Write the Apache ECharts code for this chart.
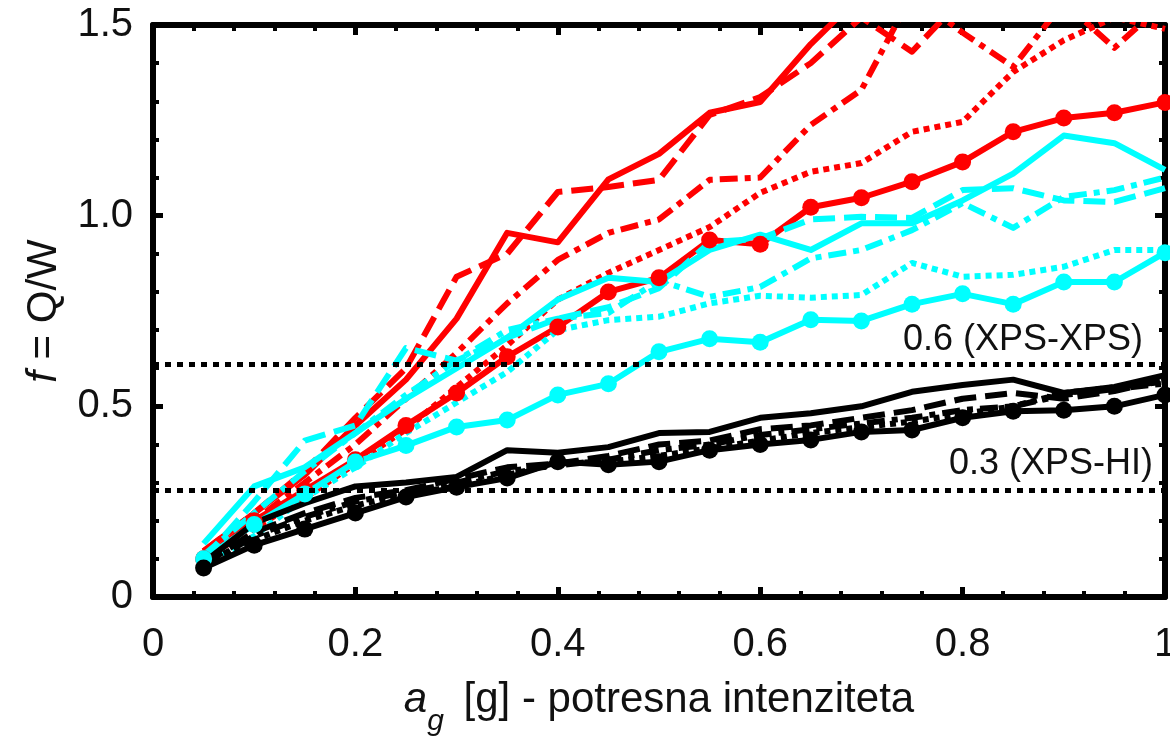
<!DOCTYPE html>
<html>
<head>
<meta charset="utf-8">
<title>f = Q/W</title>
<script src="https://cdn.jsdelivr.net/npm/echarts@6/dist/echarts.min.js"></script>
<style>
  html, body { margin: 0; padding: 0; background: #fff; }
  #chart { width: 1170px; height: 742px; }
</style>
</head>
<body>
<div id="chart"></div>
<script>
// a_g values [g]
var xs = [0.05, 0.1, 0.15, 0.2, 0.25, 0.3, 0.35, 0.4, 0.45, 0.5, 0.55, 0.6, 0.65, 0.7, 0.75, 0.8, 0.85, 0.9, 0.95, 1.0];

// red group
var redDots    = [0.10, 0.20, 0.28, 0.36, 0.45, 0.535, 0.63, 0.708, 0.80, 0.837, 0.936, 0.925, 1.022, 1.047, 1.089, 1.141, 1.22, 1.256, 1.27, 1.297];
var redSolid   = [0.12, 0.22, 0.32, 0.45, 0.57, 0.73, 0.955, 0.93, 1.095, 1.162, 1.27, 1.298, 1.45, 1.58, 1.60, 1.62, 1.65, 1.62, 1.66, 1.70];
var redDashed  = [0.12, 0.22, 0.33, 0.47, 0.60, 0.84, 0.90, 1.062, 1.075, 1.094, 1.264, 1.311, 1.40, 1.52, 1.43, 1.57, 1.60, 1.58, 1.62, 1.64];
var redDashDot = [0.11, 0.20, 0.30, 0.40, 0.52, 0.64, 0.77, 0.884, 0.955, 0.99, 1.094, 1.10, 1.238, 1.33, 1.58, 1.48, 1.39, 1.56, 1.44, 1.56];
var redDotted  = [0.10, 0.18, 0.26, 0.35, 0.44, 0.55, 0.66, 0.78, 0.85, 0.91, 0.97, 1.06, 1.115, 1.138, 1.22, 1.246, 1.377, 1.46, 1.52, 1.49];

// cyan group
var cyanDots    = [0.10, 0.19, 0.27, 0.354, 0.397, 0.446, 0.464, 0.53, 0.559, 0.643, 0.677, 0.668, 0.727, 0.724, 0.768, 0.795, 0.768, 0.826, 0.826, 0.903];
var cyanSolid   = [0.14, 0.29, 0.34, 0.43, 0.52, 0.60, 0.68, 0.78, 0.837, 0.826, 0.91, 0.95, 0.91, 0.98, 0.98, 1.04, 1.11, 1.21, 1.19, 1.12];
var cyanDashed  = [0.10, 0.25, 0.41, 0.45, 0.653, 0.62, 0.68, 0.73, 0.76, 0.81, 0.93, 0.94, 0.99, 0.997, 0.994, 1.067, 1.072, 1.04, 1.036, 1.072];
var cyanDashDot = [0.11, 0.22, 0.33, 0.43, 0.53, 0.62, 0.70, 0.73, 0.745, 0.83, 0.787, 0.813, 0.888, 0.91, 0.962, 1.033, 0.968, 1.049, 1.067, 1.10];
var cyanDotted  = [0.08, 0.16, 0.26, 0.34, 0.43, 0.51, 0.59, 0.70, 0.726, 0.735, 0.77, 0.79, 0.785, 0.792, 0.876, 0.84, 0.845, 0.866, 0.91, 0.91];

// black group
var blackDots    = [0.076, 0.136, 0.178, 0.22, 0.262, 0.288, 0.312, 0.355, 0.347, 0.355, 0.385, 0.40, 0.412, 0.433, 0.438, 0.47, 0.487, 0.49, 0.50, 0.53];
var blackSolid   = [0.09, 0.194, 0.246, 0.29, 0.30, 0.315, 0.385, 0.378, 0.393, 0.43, 0.433, 0.47, 0.482, 0.50, 0.538, 0.556, 0.57, 0.535, 0.551, 0.582];
var blackDashed  = [0.085, 0.17, 0.22, 0.26, 0.28, 0.31, 0.34, 0.35, 0.37, 0.40, 0.41, 0.44, 0.45, 0.47, 0.49, 0.52, 0.535, 0.52, 0.54, 0.57];
var blackDashDot = [0.08, 0.16, 0.21, 0.25, 0.275, 0.30, 0.33, 0.345, 0.36, 0.385, 0.40, 0.425, 0.44, 0.455, 0.47, 0.49, 0.50, 0.53, 0.545, 0.56];
var blackDotted  = [0.09, 0.15, 0.20, 0.24, 0.27, 0.29, 0.32, 0.35, 0.355, 0.37, 0.39, 0.41, 0.43, 0.445, 0.46, 0.48, 0.50, 0.535, 0.55, 0.565];

// reference levels
var refLevels = [0.61, 0.277];
var refLabels = ['0.6 (XPS-XPS)', '0.3 (XPS-HI)'];

var FONT = '"Liberation Sans", Arial, sans-serif';
var DASH = [22, 9];
var DASHDOT = [18, 7, 6, 7];
var DOT = [6, 5];

function mkLine(vals, color, type, dots) {
  return {
    type: 'line',
    data: xs.map(function (x, i) { return [x, vals[i]]; }),
    showSymbol: !!dots,
    symbol: 'circle',
    symbolSize: dots ? 17 : 0,
    itemStyle: { color: color },
    lineStyle: { color: color, width: 6, type: type, cap: 'butt', join: 'round' },
    clip: true,
    silent: true
  };
}

var series = [
  mkLine(redSolid, '#ff0000', 'solid'),
  mkLine(redDashed, '#ff0000', DASH),
  mkLine(redDashDot, '#ff0000', DASHDOT),
  mkLine(redDotted, '#ff0000', DOT),
  mkLine(redDots, '#ff0000', 'solid', true),
  mkLine(cyanSolid, '#00ffff', 'solid'),
  mkLine(cyanDashed, '#00ffff', DASH),
  mkLine(cyanDashDot, '#00ffff', DASHDOT),
  mkLine(cyanDotted, '#00ffff', DOT),
  mkLine(cyanDots, '#00ffff', 'solid', true),
  mkLine(blackSolid, '#000000', 'solid'),
  mkLine(blackDashed, '#000000', DASH),
  mkLine(blackDashDot, '#000000', DASHDOT),
  mkLine(blackDotted, '#000000', DOT),
  mkLine(blackDots, '#000000', 'solid', true)
];

series.push({
  type: 'line',
  data: [],
  silent: true,
  markLine: {
    silent: true,
    symbol: ['none', 'none'],
    animation: false,
    lineStyle: { color: '#000', width: 5, type: [6, 6] },
    data: refLevels.map(function (v, i) {
      return {
        yAxis: v,
        label: {
          show: true,
          position: 'insideEndTop',
          formatter: refLabels[i],
          fontFamily: FONT,
          fontSize: 36,
          color: '#111',
          distance: i === 0 ? [22, 6] : [12, 8]
        }
      };
    })
  }
});

var axisLineStyle = { show: true, onZero: false, lineStyle: { color: '#000', width: 6 } };
var tickStyle = { show: true, inside: true, length: 10, lineStyle: { color: '#000', width: 5 } };
var minorStyle = { show: true, splitNumber: 5, length: 6, lineStyle: { color: '#000', width: 4 } };

var chart = echarts.init(document.getElementById('chart'));
chart.setOption({
  animation: false,
  backgroundColor: '#fff',
  grid: { left: 153, right: 5, top: 25, bottom: 145, containLabel: false, outerBoundsMode: 'none' },
  xAxis: [{
    type: 'value', min: 0, max: 1, interval: 0.2, position: 'bottom',
    axisLine: axisLineStyle, axisTick: tickStyle, minorTick: minorStyle,
    splitLine: { show: false },
    axisLabel: {
      fontFamily: FONT, fontSize: 40, color: '#111', margin: 28,
      formatter: function (v) { return (v === 0 || v === 1) ? String(v) : v.toFixed(1); }
    },
    name: '{it|a}{sub|g} [g] - potresna intenziteta',
    nameLocation: 'middle',
    nameGap: 66,
    nameTextStyle: {
      fontFamily: FONT, fontSize: 42, color: '#111',
      rich: {
        it: { fontFamily: FONT, fontSize: 42, fontStyle: 'italic', color: '#111' },
        sub: { fontFamily: FONT, fontSize: 30, fontStyle: 'italic', color: '#111', padding: [44, 8, 0, 0] }
      }
    }
  }, {
    type: 'value', min: 0, max: 1, interval: 0.2, position: 'top',
    axisLine: axisLineStyle, axisTick: tickStyle, minorTick: minorStyle,
    splitLine: { show: false }, axisLabel: { show: false }
  }],
  yAxis: [{
    type: 'value', min: 0, max: 1.5, interval: 0.5, position: 'left',
    axisLine: axisLineStyle, axisTick: tickStyle, minorTick: minorStyle,
    splitLine: { show: false },
    axisLabel: {
      fontFamily: FONT, fontSize: 40, color: '#111', margin: 20,
      formatter: function (v) { return v === 0 ? '0' : v.toFixed(1); }
    },
    name: '{it|f} = Q/W',
    nameLocation: 'middle',
    nameGap: 88,
    nameTextStyle: {
      fontFamily: FONT, fontSize: 42, color: '#111',
      rich: { it: { fontFamily: FONT, fontSize: 42, fontStyle: 'italic', color: '#111' } }
    }
  }, {
    type: 'value', min: 0, max: 1.5, interval: 0.5, position: 'right',
    axisLine: axisLineStyle, axisTick: tickStyle, minorTick: minorStyle,
    splitLine: { show: false }, axisLabel: { show: false }
  }],
  series: series
});
</script>
</body>
</html>
